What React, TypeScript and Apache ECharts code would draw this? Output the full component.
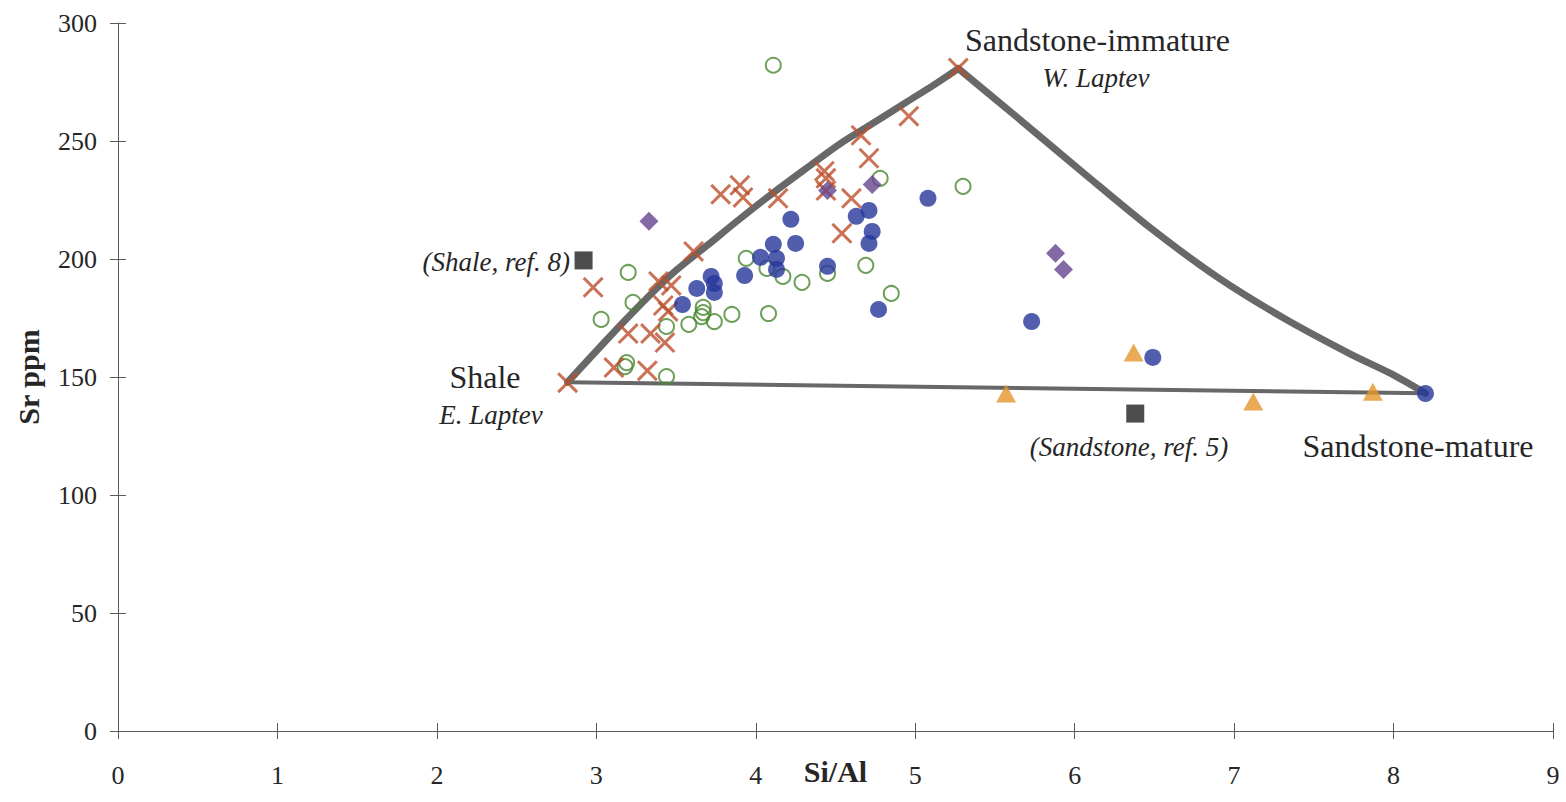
import React, { useEffect, useRef } from "react";
import * as echarts from "echarts";

// Axis ranges
const xMin = 0;
const xMax = 9;
const xStep = 1;
const yMin = 0;
const yMax = 300;
const yStep = 50;

// Sample series [Si/Al, Sr ppm]
const blueCircles = [
  [3.54, 180.7], [3.63, 187.5], [3.72, 192.6], [3.74, 189.6], [3.74, 185.8],
  [3.93, 193.0], [4.03, 200.7], [4.11, 206.2], [4.13, 200.3], [4.13, 195.6],
  [4.22, 216.8], [4.25, 206.6], [4.45, 196.9], [4.63, 218.1], [4.71, 220.6],
  [4.73, 211.7], [4.71, 206.6], [4.77, 178.6], [5.08, 225.7], [5.73, 173.5],
  [6.49, 158.3], [8.2, 143.0],
];

const greenCircles = [
  [4.11, 282.1], [5.3, 230.8], [4.78, 234.2], [3.2, 194.3], [3.23, 181.6],
  [3.03, 174.4], [3.19, 156.1], [3.18, 154.4], [3.44, 150.2], [3.44, 171.4],
  [3.58, 172.3], [3.67, 179.5], [3.67, 177.3], [3.66, 175.6], [3.74, 173.5],
  [3.85, 176.5], [3.94, 200.3], [4.07, 196.0], [4.17, 192.6], [4.08, 176.9],
  [4.29, 190.1], [4.45, 193.9], [4.69, 197.3], [4.85, 185.4],
];

const redCrosses = [
  [2.82, 147.6], [2.98, 188.0], [3.11, 154.0], [3.2, 168.4], [3.34, 168.4],
  [3.32, 152.7], [3.43, 164.6], [3.39, 190.5], [3.47, 188.8], [3.42, 180.3],
  [3.45, 177.8], [3.61, 203.2], [3.78, 227.4], [3.9, 231.2], [3.92, 226.1],
  [4.14, 225.7], [4.43, 237.2], [4.44, 234.2], [4.44, 229.0], [4.6, 225.7],
  [4.54, 210.9], [4.66, 252.4], [4.71, 242.7], [4.96, 260.5], [5.27, 280.9],
];

const purpleDiamonds = [
  [3.33, 216.0], [4.45, 229.0], [4.73, 231.6], [5.88, 202.4], [5.93, 195.6],
];

const orangeTriangles = [
  [5.57, 143.0], [6.37, 160.4], [7.12, 139.6], [7.87, 143.8],
];

const referenceSquares = [
  [2.92, 199.4], [6.38, 134.5],
];

// Mixing envelope
const shaleToImmature = [
  [2.82, 147.8], [3.07, 166.1], [3.28, 180.9], [3.48, 194.0],
  [3.7, 206.0], [3.9, 217.0], [4.11, 228.1], [4.33, 239.1], [4.53, 248.9],
  [4.72, 256.9], [4.96, 267.1], [5.12, 273.9], [5.27, 280.7],
];

const immatureToMature = [
  [5.27, 280.7], [5.64, 260.0], [6.06, 236.2], [6.48, 212.9], [6.9, 192.1],
  [7.31, 175.0], [7.73, 159.7], [7.99, 151.2], [8.2, 143.1],
];

const shaleToMature = [
  [2.82, 147.8], [8.2, 143.1],
];

const FONT = "'Liberation Serif', 'Times New Roman', serif";
const TEXT = "#262626";
const AXIS = "#5a5a5a";
const ENVELOPE = "#686868";

const crossPath =
  "path://M2,0 L10,8 L18,0 L20,2 L12,10 L20,18 L18,20 L10,12 L2,20 L0,18 L8,10 L0,2 Z";

function buildOption() {
  const baseX = {
    type: "value",
    min: xMin,
    max: xMax,
    interval: xStep,
    splitLine: { show: false },
  };
  const baseY = {
    type: "value",
    min: yMin,
    max: yMax,
    interval: yStep,
    splitLine: { show: false },
  };
  const lineSeries = (name: string, data: number[][], width: number) => ({
    name,
    type: "line",
    data,
    smooth: 0.3,
    symbol: "none",
    silent: true,
    z: 1,
    lineStyle: { color: ENVELOPE, width, cap: "round", join: "round" },
  });
  return {
    animation: false,
    backgroundColor: "#ffffff",
    textStyle: { fontFamily: FONT },
    grid: {
      left: 118,
      right: 13,
      top: 23,
      bottom: 71,
      containLabel: false,
      outerBoundsMode: "none",
    },
    xAxis: [
      {
        ...baseX,
        position: "bottom",
        name: "Si/Al",
        nameLocation: "middle",
        nameGap: 25,
        nameMoveOverlap: false,
        nameTextStyle: { fontFamily: FONT, fontSize: 30, fontWeight: "bold", color: TEXT },
        axisLine: { show: true, lineStyle: { color: AXIS, width: 1 } },
        axisTick: { show: true, inside: false, length: 8, lineStyle: { color: AXIS } },
        axisLabel: { fontFamily: FONT, fontSize: 26, color: TEXT, margin: 31 },
      },
      {
        ...baseX,
        position: "bottom",
        axisLine: { show: false },
        axisTick: { show: true, inside: true, length: 8, lineStyle: { color: AXIS } },
        axisLabel: { show: false },
      },
    ],
    yAxis: [
      {
        ...baseY,
        position: "left",
        name: "Sr ppm",
        nameLocation: "middle",
        nameGap: 75,
        nameRotate: 90,
        nameMoveOverlap: false,
        nameTextStyle: { fontFamily: FONT, fontSize: 30, fontWeight: "bold", color: TEXT },
        axisLine: { show: true, lineStyle: { color: AXIS, width: 1 } },
        axisTick: { show: true, inside: false, length: 8, lineStyle: { color: AXIS } },
        axisLabel: { fontFamily: FONT, fontSize: 26, color: TEXT, margin: 21 },
      },
      {
        ...baseY,
        position: "left",
        axisLine: { show: false },
        axisTick: { show: true, inside: true, length: 8, lineStyle: { color: AXIS } },
        axisLabel: { show: false },
      },
    ],
    series: [
      lineSeries("Shale to immature sandstone", shaleToImmature, 7),
      lineSeries("Immature to mature sandstone", immatureToMature, 7),
      lineSeries("Shale to mature sandstone", shaleToMature, 4),
      {
        name: "Green open circles",
        type: "scatter",
        data: greenCircles,
        symbol: "circle",
        symbolSize: 15,
        z: 3,
        itemStyle: { color: "rgba(0,0,0,0)", borderColor: "#4a8732", borderWidth: 2 },
      },
      {
        name: "Red crosses",
        type: "scatter",
        data: redCrosses,
        symbol: crossPath,
        symbolSize: 21,
        z: 4,
        itemStyle: { color: "#bc4f2c" },
      },
      {
        name: "Purple diamonds",
        type: "scatter",
        data: purpleDiamonds,
        symbol: "diamond",
        symbolSize: 19,
        z: 5,
        itemStyle: { color: "#65458f" },
      },
      {
        name: "Blue circles",
        type: "scatter",
        data: blueCircles,
        symbol: "circle",
        symbolSize: 17,
        z: 6,
        itemStyle: { color: "#25369a" },
      },
      {
        name: "Orange triangles",
        type: "scatter",
        data: orangeTriangles,
        symbol: "triangle",
        symbolSize: [20, 18],
        z: 6,
        itemStyle: { color: "#e4962c" },
      },
      {
        name: "Reference squares",
        type: "scatter",
        data: referenceSquares,
        symbol: "rect",
        symbolSize: 18,
        z: 6,
        itemStyle: { color: "#202020" },
      },
    ],
    graphic: [
      {
        type: "text",
        x: 965,
        y: 40,
        style: { text: "Sandstone-immature", font: `32px ${FONT}`, fill: TEXT, textAlign: "left", textVerticalAlign: "middle" },
      },
      {
        type: "text",
        x: 1096,
        y: 78,
        style: { text: "W. Laptev", font: `italic 27px ${FONT}`, fill: TEXT, textAlign: "center", textVerticalAlign: "middle" },
      },
      {
        type: "text",
        x: 485,
        y: 377,
        style: { text: "Shale", font: `32px ${FONT}`, fill: TEXT, textAlign: "center", textVerticalAlign: "middle" },
      },
      {
        type: "text",
        x: 491,
        y: 415,
        style: { text: "E. Laptev", font: `italic 27px ${FONT}`, fill: TEXT, textAlign: "center", textVerticalAlign: "middle" },
      },
      {
        type: "text",
        x: 570,
        y: 262,
        style: { text: "(Shale, ref. 8)", font: `italic 27px ${FONT}`, fill: TEXT, textAlign: "right", textVerticalAlign: "middle" },
      },
      {
        type: "text",
        x: 1129,
        y: 447,
        style: { text: "(Sandstone, ref. 5)", font: `italic 27px ${FONT}`, fill: TEXT, textAlign: "center", textVerticalAlign: "middle" },
      },
      {
        type: "text",
        x: 1418,
        y: 446,
        style: { text: "Sandstone-mature", font: `32px ${FONT}`, fill: TEXT, textAlign: "center", textVerticalAlign: "middle" },
      },
    ],
  };
}

export default function App() {
  const ref = useRef<HTMLDivElement>(null);
  useEffect(() => {
    document.body.style.margin = "0";
    if (!ref.current) return;
    const chart = echarts.init(ref.current, null, { renderer: "svg" });
    chart.setOption(buildOption() as any);
    return () => {
      chart.dispose();
    };
  }, []);
  return <div ref={ref} style={{ width: 1566, height: 802 }} />;
}
